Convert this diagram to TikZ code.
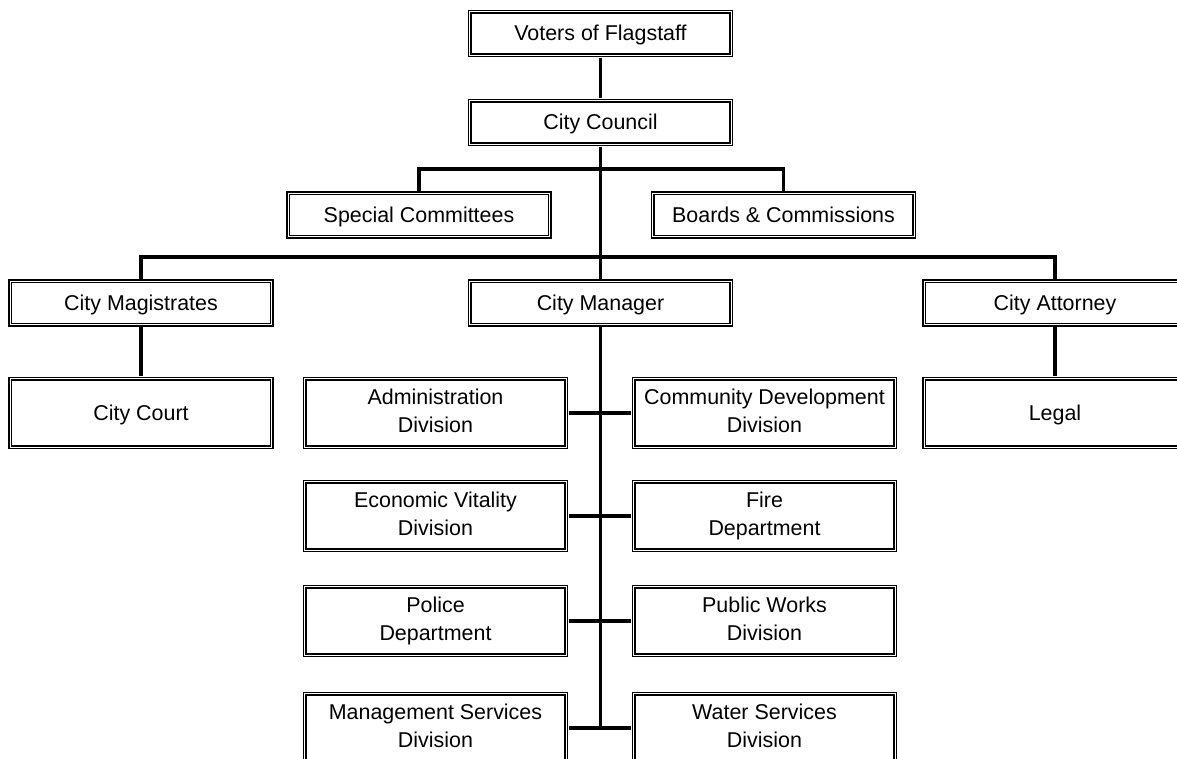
\documentclass[tikz,border=0pt]{standalone}
\usepackage{fontspec}
\setmainfont{Liberation Sans}
\usepackage{tikz}

\begin{document}
\begin{tikzpicture}[x=0.02cm, y=-0.02cm,
    every node/.style={font=\fontsize{12.2}{15.4}\selectfont},
    orgbox/.style={draw, line width=0.65pt, double, double distance=0.8pt, minimum width=5.23cm, minimum height=0.87cm, inner sep=0pt, align=center, execute at begin node={\rule{0pt}{0.9em}}, execute at end node={\rule[-0.21em]{0pt}{0pt}}},
    tallbox/.style={orgbox, minimum height=1.37cm},
    link/.style={line width=2pt, shorten <=1pt, shorten >=1pt}]
    % Page frame
    \useasboundingbox (0,0) rectangle (1177,759);
    \clip (0,0) rectangle (1177,759);
    % Top of the chart
    \node[orgbox] (voters) at (600.5,33.5) {Voters of Flagstaff};
    \node[orgbox] (council) at (600.5,122.5) {City Council};
    \node[orgbox] (special) at (419,215) {Special Committees};
    \node[orgbox] (boards) at (783.5,215) {Boards \& Commissions};
    % Officers
    \node[orgbox] (magistrates) at (141,303) {City Magistrates};
    \node[orgbox] (manager) at (600.5,303) {City Manager};
    \node[orgbox] (attorney) at (1055,303) {City Attorney};
    \node[tallbox] (court) at (141,413) {City Court};
    \node[tallbox] (legal) at (1055,413) {Legal};
    % Bus points
    \coordinate (bus1) at (600.5,169);
    \coordinate (bus2) at (600.5,257);
    \coordinate (trunkend) at (600.5,728);
    % Connectors
    \draw[link] (voters) -- (council);
    \draw[link] (council.south) -- (manager.north);
    \draw[link] (special.north) |- (bus1) -| (boards.north);
    \draw[link] (magistrates.north) |- (bus2) -| (attorney.north);
    \draw[link] (magistrates) -- (court);
    \draw[link] (attorney) -- (legal);
    \draw[link, shorten >=0pt] (manager.south) -- (trunkend);
    % Divisions under the City Manager
    \foreach \y/\lname/\ltext/\rname/\rtext in {
        413/admin/{Administration\\Division}/comdev/{Community Development\\Division},
        516/econ/{Economic Vitality\\Division}/fire/{Fire\\Department},
        621/police/{Police\\Department}/works/{Public Works\\Division},
        728/mgmt/{Management Services\\Division}/water/{Water Services\\Division}}
    {
        \node[tallbox] (\lname) at (435.5,\y) {\ltext};
        \node[tallbox] (\rname) at (764.5,\y) {\rtext};
        \draw[link] (\lname.east) -- (\rname.west);
    }
\end{tikzpicture}
\end{document}
